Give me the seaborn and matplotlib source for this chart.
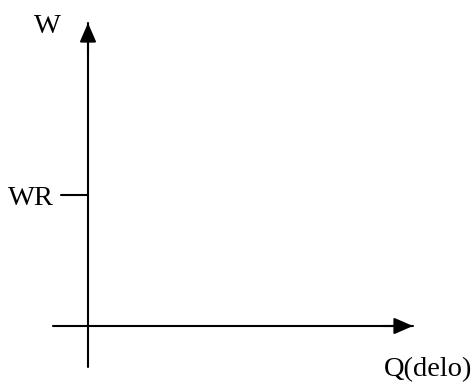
import matplotlib
matplotlib.use("Agg")
import matplotlib.pyplot as plt
import seaborn as sns
import pandas as pd

# Diagram values (origin of the axes at 0,0)
q_axis = [-35, 325]        # horizontal (Q) axis extent
w_axis = [-41, 303]        # vertical (W) axis extent
wr_level = 131             # level of WR on the W axis
wr_tick = [-27, 0]         # WR tick extent
label_w = "W"
label_wr = "WR"
label_q = "Q(delo)"

sns.set_theme(style="white")
plt.rcParams['font.family'] = ['Liberation Serif', 'DejaVu Serif']

fig = plt.figure(figsize=(4.75, 3.83), dpi=100)
ax = fig.add_axes([0, 0, 1, 1])
ax.set_xlim(-88, 387)
ax.set_ylim(-57, 326)
ax.axis('off')

lw = 1.5
h_df = pd.DataFrame({"q": q_axis, "w": [0, 0]})
v_df = pd.DataFrame({"q": [0, 0], "w": w_axis})
t_df = pd.DataFrame({"q": wr_tick, "w": [wr_level, wr_level]})
for df in (h_df, v_df, t_df):
    sns.lineplot(data=df, x="q", y="w", ax=ax, color="black", lw=lw,
                 estimator=None, sort=False)

head = dict(arrowstyle="-|>,head_length=11.5,head_width=5", color="black",
            lw=lw, mutation_scale=1, shrinkA=0, shrinkB=0)
ax.annotate("", xy=(q_axis[1], 0), xytext=(q_axis[1] - 30, 0), arrowprops=head)
ax.annotate("", xy=(0, w_axis[1]), xytext=(0, w_axis[1] - 30), arrowprops=head)

fs = 20.5
ax.text(-40.5, 293, label_w, fontsize=fs, ha="center", va="baseline", color="black")
ax.text(-34, wr_level - 10, label_wr, fontsize=fs, ha="right", va="baseline", color="black")
ax.text(340, -50, label_q, fontsize=fs, ha="center", va="baseline", color="black")

fig.savefig("out.png", dpi=100)
